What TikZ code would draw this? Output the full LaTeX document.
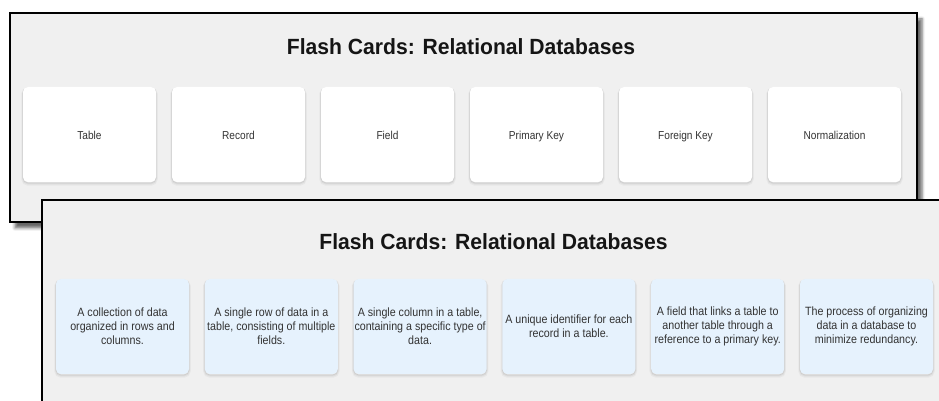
\documentclass[tikz,border=0pt]{standalone}
\usepackage{fontspec}
\usepackage{graphicx}
\setmainfont{Liberation Sans}
\usetikzlibrary{shadows.blur}

\definecolor{panelbg}{HTML}{F0F0F0}
\definecolor{defbg}{HTML}{E6F2FD}
\definecolor{cardtext}{HTML}{333333}
\definecolor{titletext}{HTML}{151515}

% slightly condensed text, as set by the browser
\newcommand{\lbltxt}[1]{\scalebox{0.88}[1]{#1}}
\newcommand{\deftxt}[1]{\scalebox{0.89}[1]{#1}}

\tikzset{
  panel/.style={rectangle, draw=black, line width=2pt, fill=panelbg,
    anchor=north west, inner sep=0pt,
    blur shadow={shadow xshift=5pt, shadow yshift=-6pt,
      shadow blur radius=3pt, shadow opacity=60}},
  % soft card shadow built from a few faint layers
  card/.style={rectangle, rounded corners=5pt, minimum width=133pt,
    minimum height=95pt, inner sep=0pt, text=cardtext, align=center,
    preaction={draw=black, line width=3.5pt, opacity=0.035,
      transform canvas={yshift=-2pt}},
    preaction={draw=black, line width=1.8pt, opacity=0.05,
      transform canvas={yshift=-1.5pt}},
    preaction={draw=black, line width=0.6pt, opacity=0.06,
      transform canvas={yshift=-1pt}}},
  termcard/.style={card, fill=white, font=\fontsize{11.5}{14}\selectfont,
    text height=12pt, text depth=1pt},
  defcard/.style={card, fill=defbg, font=\fontsize{12}{14.2}\selectfont},
  heading/.style={anchor=base, inner sep=0pt, text=titletext,
    font=\fontsize{22}{26}\selectfont\bfseries},
}

\begin{document}
\begin{tikzpicture}[x=1pt, y=1pt]
\useasboundingbox (0,0) rectangle (939,401);
\clip (0,0) rectangle (939,401);

% ---- front side: the terms ----
\node[panel, minimum width=907pt, minimum height=209pt] (front) at (9,389) {};
\node[heading] (fronttitle) at (461,346) {\scalebox{0.96}[1]{Flash Cards: Relational Databases}};

\node[termcard] (t1) at (89.5,266.5)  {\lbltxt{Table}};
\node[termcard] (t2) at (238.5,266.5) {\lbltxt{Record}};
\node[termcard] (t3) at (387.5,266.5) {\lbltxt{Field}};
\node[termcard] (t4) at (536.5,266.5) {\lbltxt{Primary Key}};
\node[termcard] (t5) at (685.5,266.5) {\lbltxt{Foreign Key}};
\node[termcard] (t6) at (834.5,266.5) {\lbltxt{Normalization}};

% ---- back side: the definitions ----
\node[panel, minimum width=920pt, minimum height=230pt] (back) at (41,202) {};
\node[heading] (backtitle) at (493.5,151.5) {\scalebox{0.96}[1]{Flash Cards: Relational Databases}};

\node[defcard] (d1) at (122.5,74.5) {\deftxt{A collection of data}\\\deftxt{organized in rows and}\\\deftxt{columns.}};
\node[defcard] (d2) at (271.3,74.5) {\deftxt{A single row of data in a}\\\deftxt{table, consisting of multiple}\\\deftxt{fields.}};
\node[defcard] (d3) at (420.1,74.5) {\deftxt{A single column in a table,}\\\deftxt{containing a specific type of}\\\deftxt{data.}};
\node[defcard] (d4) at (568.9,74.5) {\deftxt{A unique identifier for each}\\\deftxt{record in a table.}};
\node[defcard] (d5) at (717.7,74.5) {\deftxt{A field that links a table to}\\\deftxt{another table through a}\\\deftxt{reference to a primary key.}};
\node[defcard] (d6) at (866.5,74.5) {\deftxt{The process of organizing}\\\deftxt{data in a database to}\\\deftxt{minimize redundancy.}};
\end{tikzpicture}
\end{document}
